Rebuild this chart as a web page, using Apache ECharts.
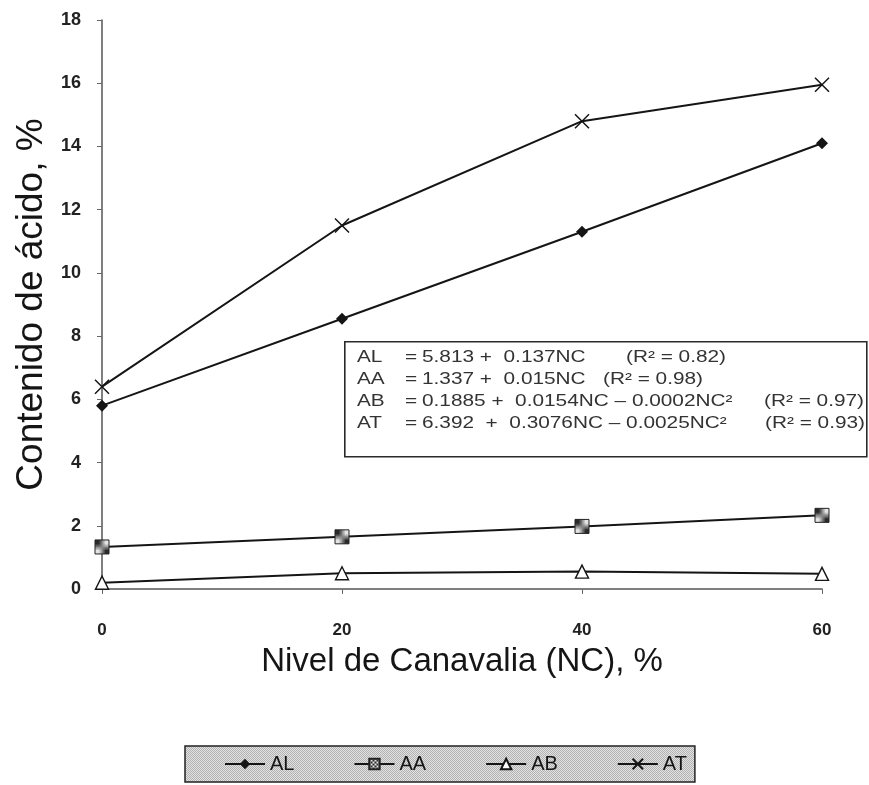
<!DOCTYPE html>
<html>
<head>
<meta charset="utf-8">
<title>Contenido de ácido vs nivel de Canavalia</title>
<script src="https://cdn.jsdelivr.net/npm/echarts@6/dist/echarts.min.js"></script>
<style>
  html, body { margin: 0; padding: 0; background: #fff; }
  #chart { width: 869px; height: 785px; }
</style>
</head>
<body>
<div id="chart"></div>
<script>
// Canavalia level (NC, %) and acid content (%) for each acid
const nivelNC = [0, 20, 40, 60];
const AL = [5.8, 8.55, 11.3, 14.1];
const AA = [1.33, 1.65, 1.98, 2.33];
const AB = [0.2, 0.5, 0.55, 0.48];
const AT = [6.4, 11.5, 14.8, 15.95];

const yTicks = { min: 0, max: 18, step: 2 };
const xTicks = { min: 0, max: 60, step: 20 };

// Regression equations shown in the inset box
const eqNames = ['AL', 'AA', 'AB', 'AT'];
const eqBodies = [
  '5.813 +  0.137NC',
  '1.337 +  0.015NC',
  '0.1885 +  0.0154NC \u2013 0.0002NC\u00B2',
  '6.392  +  0.3076NC \u2013 0.0025NC\u00B2'
];
const eqR2 = ['(R\u00B2 = 0.82)', '(R\u00B2 = 0.98)', '(R\u00B2 = 0.97)', '(R\u00B2 = 0.93)'];

const FONT = '"Liberation Sans", Arial, sans-serif';
const INK = '#151515';

// small checkered fill used by the AA squares and the legend panel
function makePattern(size, a, b) {
  const c = document.createElement('canvas');
  c.width = size * 2; c.height = size * 2;
  const g = c.getContext('2d');
  g.fillStyle = b; g.fillRect(0, 0, size * 2, size * 2);
  g.fillStyle = a;
  g.fillRect(0, 0, size, size);
  g.fillRect(size, size, size, size);
  return { image: c, repeat: 'repeat' };
}
const checker = makePattern(2, '#2a2a2a', '#e4e4e4');
const stipple = makePattern(1, '#b2b2b2', '#e2e2e2');

function pairs(ys) { return nivelNC.map((x, i) => [x, ys[i]]); }

function lineSeries(name, ys, symbol, size, itemStyle) {
  return {
    name, type: 'line', data: pairs(ys),
    symbol, symbolSize: size, showAllSymbol: true,
    lineStyle: { color: INK, width: 2 },
    itemStyle: Object.assign({ color: INK, borderColor: INK, borderWidth: 0 }, itemStyle),
    emphasis: { disabled: true },
    z: 3
  };
}

// equation box graphics (wide, stretched lettering)
const box = { left: 344, top: 341, width: 522, height: 115 };
const rowTop = 350, rowStep = 22;
const stretch = 1.3;
const colName = 357, colEq = 405, colBody = 422;
const colR2 = [626, 603, 764, 765];
const graphics = [{
  type: 'rect', left: box.left, top: box.top, z: 1,
  shape: { width: box.width, height: box.height },
  style: { fill: '#fff', stroke: '#2a2a2a', lineWidth: 1.6 }
}];
function eqText(str, x, y) {
  return {
    type: 'text', x, y, z: 2, scaleX: stretch, originX: 0, originY: 0,
    style: { text: str, fill: '#333', font: '16px ' + FONT, textVerticalAlign: 'top' }
  };
}
eqNames.forEach((n, i) => {
  const y = rowTop + i * rowStep;
  graphics.push(eqText(n, colName, y));
  graphics.push(eqText('=', colEq, y));
  graphics.push(eqText(eqBodies[i], colBody, y));
  graphics.push(eqText(eqR2[i], colR2[i], y));
});

const chart = echarts.init(document.getElementById('chart'), null, { renderer: 'canvas' });
chart.setOption({
  animation: false,
  backgroundColor: '#fff',
  grid: { left: 102, right: 47, top: 20, bottom: 196 },
  xAxis: {
    type: 'value', min: xTicks.min, max: xTicks.max, interval: xTicks.step,
    name: 'Nivel de Canavalia (NC), %', nameLocation: 'middle', nameGap: 56,
    nameTextStyle: { fontFamily: FONT, fontSize: 33, color: INK },
    axisLine: { onZero: false, lineStyle: { color: '#555', width: 1.5 } },
    axisTick: { show: true, length: 5, lineStyle: { color: '#666' } },
    axisLabel: { fontFamily: FONT, fontSize: 17, fontWeight: 'bold', color: '#222', margin: 33 },
    splitLine: { show: false }
  },
  yAxis: {
    type: 'value', min: yTicks.min, max: yTicks.max, interval: yTicks.step,
    name: 'Contenido de ácido, %', nameLocation: 'middle', nameGap: 49, nameRotate: 90,
    nameTextStyle: { fontFamily: FONT, fontSize: 37, color: INK },
    axisLine: { show: true, lineStyle: { color: '#555', width: 1.5 } },
    axisTick: { show: true, length: 5, lineStyle: { color: '#666' } },
    axisLabel: { fontFamily: FONT, fontSize: 18, fontWeight: 'bold', color: '#222', margin: 21 },
    splitLine: { show: false }
  },
  legend: {
    left: 185, top: 746,
    padding: [8, 8, 8, 39], itemGap: 59,
    itemWidth: 40, itemHeight: 13,
    backgroundColor: stipple, borderColor: '#222', borderWidth: 1.5,
    textStyle: { fontFamily: FONT, fontSize: 20, color: INK },
    data: ['AL', 'AA', 'AB', 'AT'],
    selectedMode: false
  },
  graphic: graphics,
  series: [
    lineSeries('AL', AL, 'diamond', 12, {}),
    lineSeries('AA', AA, 'rect', 14, { color: checker, borderColor: '#222', borderWidth: 1 }),
    lineSeries('AB', AB, 'triangle', 13, { color: '#fff', borderColor: INK, borderWidth: 1.4 }),
    lineSeries('AT', AT, 'path://M0,0L10,10M10,0L0,10', 14, { color: 'none', borderColor: INK, borderWidth: 1.5 })
  ]
});
</script>
</body>
</html>
